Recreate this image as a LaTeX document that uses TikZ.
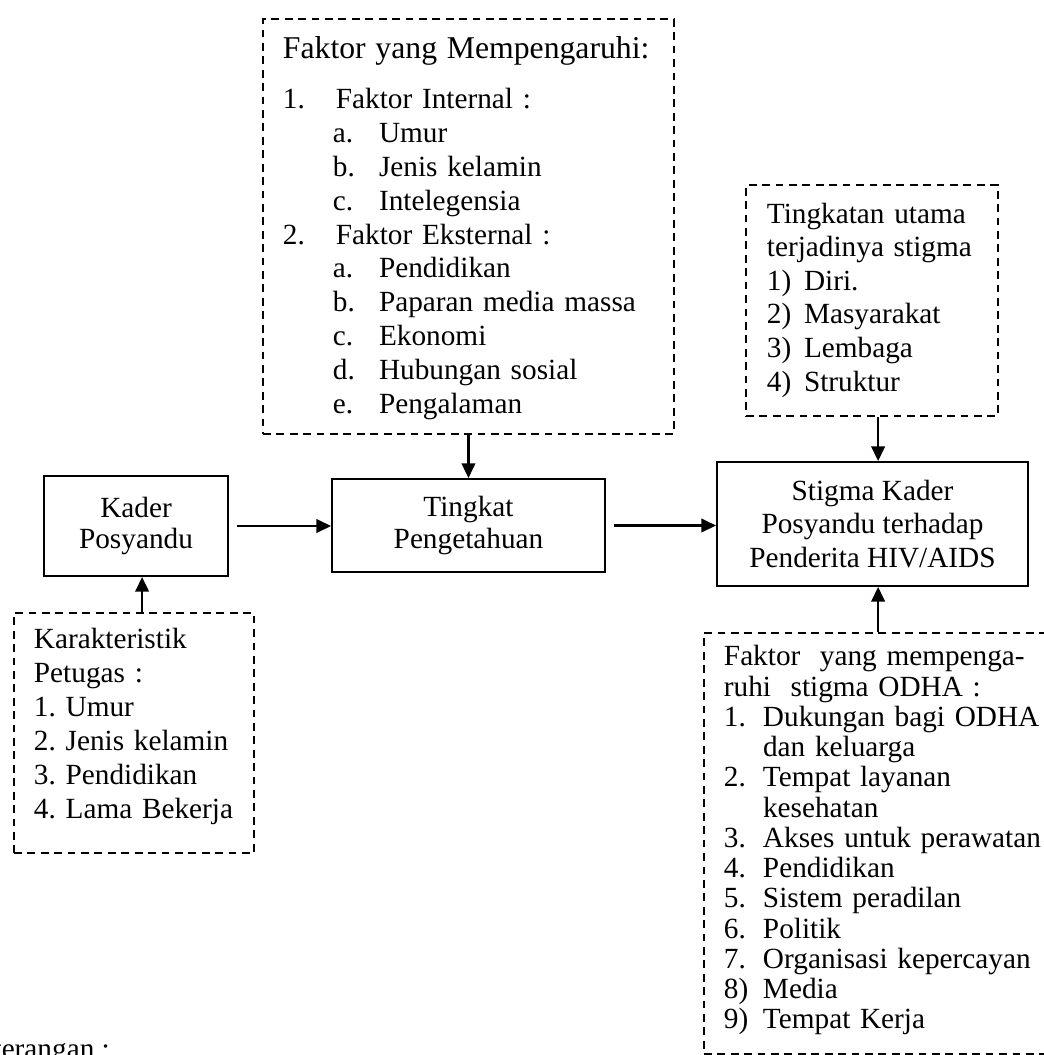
\documentclass[tikz,border=0pt]{standalone}
\usepackage{fontspec}
\setmainfont{Liberation Serif}
\usetikzlibrary{arrows.meta}
\newcommand{\fs}[1]{\fontsize{12pt}{#1}\selectfont}
\newcommand{\lbl}[2]{\makebox[#1][l]{#2}}
\tikzset{
  solidbox/.style={draw, line width=0.8pt, align=center, inner sep=0pt},
  dashbox/.style={draw, line width=0.8pt, dash pattern=on 3.2pt off 2.3pt,
    anchor=north west, align=left, inner ysep=0pt, inner xsep=8.2pt},
  arr/.style={-{Triangle[length=6pt,width=5.5pt]}, line width=1pt}
}
\begin{document}
\begin{tikzpicture}[x=0.41pt,y=-0.41pt]
\useasboundingbox (0,0) rectangle (1044,1055);
\node[dashbox, text width=152.1pt, font={\fs{13.85pt}}] (faktor) at (262,18) {%
{\fontsize{13pt}{15pt}\selectfont\rule{0pt}{16.4pt}Faktor yang Mempengaruhi:}\\[6.65pt]
\lbl{21.7pt}{1.}Faktor Internal :\\
\hspace*{20.5pt}\lbl{18.9pt}{a.}Umur\\
\hspace*{20.5pt}\lbl{18.9pt}{b.}Jenis kelamin\\
\hspace*{20.5pt}\lbl{18.9pt}{c.}Intelegensia\\
\lbl{21.7pt}{2.}Faktor Eksternal :\\
\hspace*{20.5pt}\lbl{18.9pt}{a.}Pendidikan\\
\hspace*{20.5pt}\lbl{18.9pt}{b.}Paparan media massa\\
\hspace*{20.5pt}\lbl{18.9pt}{c.}Ekonomi\\
\hspace*{20.5pt}\lbl{18.9pt}{d.}Hubungan sosial\\
\hspace*{20.5pt}\lbl{18.9pt}{e.}Pengalaman\rule[-8.6pt]{0pt}{8.6pt}};
\node[dashbox, text width=86.1pt, inner xsep=8.6pt, font={\fs{13.78pt}}] (tingkatan) at (745,184) {%
\rule{0pt}{15.6pt}Tingkatan~utama\\
terjadinya~stigma\\
\lbl{15.2pt}{1)}Diri.\\
\lbl{15.2pt}{2)}Masyarakat\\
\lbl{15.2pt}{3)}Lembaga\\
\lbl{15.2pt}{4)}Struktur\rule[-10.25pt]{0pt}{10.25pt}};
\node[solidbox, minimum width=75.4pt, minimum height=41pt, font={\fs{12.7pt}}] (kader) at (136,526) {Kader\\Posyandu};
\node[solidbox, minimum width=111.9pt, minimum height=38.1pt, font={\fs{13.5pt}}] (tingkat) at (468.5,525.5) {Tingkat\\Pengetahuan};
\node[solidbox, minimum width=127.5pt, minimum height=50.8pt, font={\fs{13.9pt}}] (stigma) at (872.5,524) {Stigma Kader\\Posyandu terhadap\\Penderita HIV/AIDS};
\node[dashbox, text width=82pt, font={\fs{13.86pt}}] (karakt) at (13,612) {%
\rule{0pt}{14.76pt}Karakteristik\\
Petugas :\\
1.~Umur\\
2.~Jenis~kelamin\\
3.~Pendidikan\\
4.~Lama~Bekerja\rule[-14.35pt]{0pt}{14.35pt}};
\node[dashbox, text width=138.2pt, font={\fs{12.4pt}}] (odha) at (703,632) {%
\rule{0pt}{13.5pt}Faktor\ \ yang mempenga-\\
ruhi\ \ stigma ODHA :\\
\lbl{16pt}{1.}Dukungan bagi ODHA\\
\hspace*{16pt}dan keluarga\\
\lbl{16pt}{2.}Tempat layanan\\
\hspace*{16pt}kesehatan\\
\lbl{16pt}{3.}Akses~untuk~perawatan\\
\lbl{16pt}{4.}Pendidikan\\
\lbl{16pt}{5.}Sistem peradilan\\
\lbl{16pt}{6.}Politik\\
\lbl{16pt}{7.}Organisasi~kepercayan\\
\lbl{16pt}{8)}Media\\
\lbl{16pt}{9)}Tempat Kerja\rule[-10.25pt]{0pt}{10.25pt}};
\node[anchor=base west, inner sep=0pt, font={\fs{13.8pt}}] (ket) at (-41,1058) {Keterangan :};
\coordinate (kx) at ([xshift=2.5pt]kader.center);
\coordinate (sx) at ([xshift=2.3pt]stigma.center);
\draw[arr] ([xshift=3.3pt]kader.east) -- (kader.east -| tingkat.west);
\draw[arr] ([xshift=3.3pt]tingkat.east) -- (tingkat.east -| stigma.west);
\draw[arr] (faktor.south) -- (faktor.south |- tingkat.north);
\draw[arr] (sx |- tingkatan.south) -- (sx |- stigma.north);
\draw[arr] (sx |- odha.north) -- (sx |- stigma.south);
\draw[arr] (kx |- karakt.north) -- (kx |- kader.south);
\end{tikzpicture}
\end{document}
